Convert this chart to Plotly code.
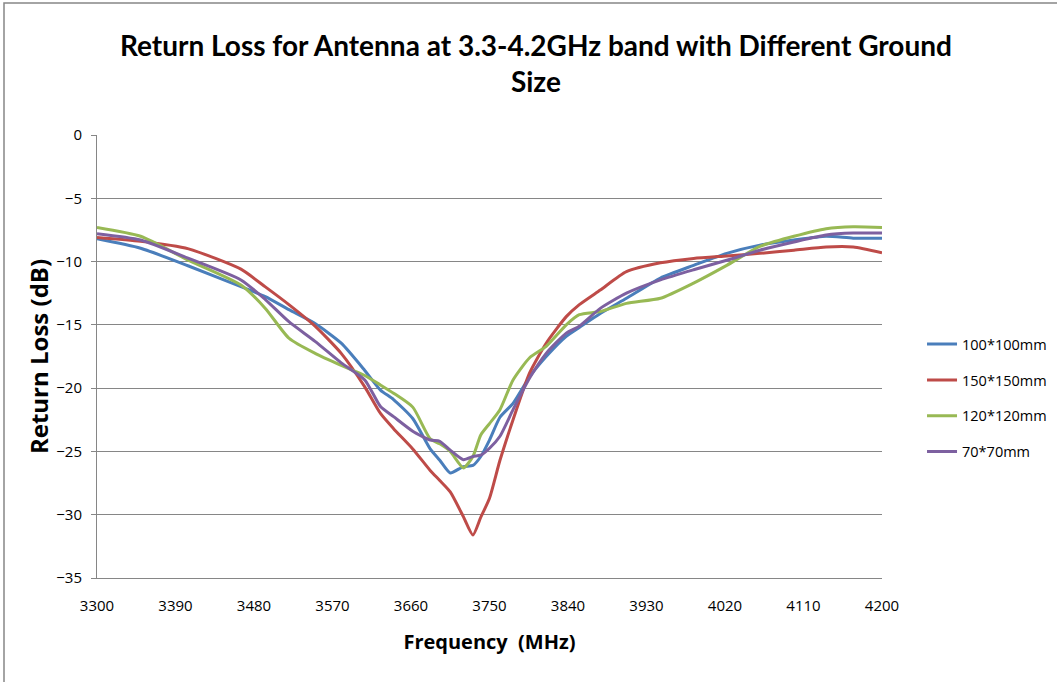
import plotly.graph_objects as go

freq = [3300, 3350, 3405, 3465, 3493, 3520, 3550, 3580, 3607, 3625, 3640, 3662, 3682,
        3693, 3705, 3720, 3731, 3740, 3750, 3762, 3777, 3796, 3815, 3838, 3853, 3877,
        3907, 3946, 3984, 4022, 4060, 4099, 4136, 4167, 4200]

s100 = [-8.2, -8.95, -10.35, -11.98, -12.77, -13.8, -14.9, -16.45, -18.6, -20.15, -20.9,
        -22.4, -24.8, -25.7, -26.7, -26.2, -26.1, -25.4, -24.1, -22.3, -21.2, -19.1,
        -17.5, -15.9, -15.2, -14.1, -12.9, -11.3, -10.3, -9.35, -8.7, -8.3, -8.0, -8.15, -8.15]

s150 = [-8.1, -8.4, -9.0, -10.6, -12.0, -13.4, -15.1, -17.25, -19.9, -22.0, -23.2,
        -24.8, -26.5, -27.3, -28.2, -30.15, -31.6, -30.2, -28.7, -25.7, -22.5, -18.8,
        -16.45, -14.35, -13.4, -12.25, -10.8, -10.1, -9.75, -9.55, -9.35, -9.1, -8.85, -8.85, -9.3]

s120 = [-7.3, -8.0, -9.9, -11.85, -13.7, -16.05, -17.25, -18.2, -19.0, -19.75, -20.4,
        -21.5, -24.0, -24.4, -25.0, -26.3, -25.4, -23.7, -22.8, -21.7, -19.35, -17.6,
        -16.7, -15.0, -14.2, -13.95, -13.3, -12.9, -11.7, -10.3, -8.8, -8.0, -7.4, -7.25, -7.3]

s70 = [-7.8, -8.3, -9.75, -11.45, -13.0, -14.75, -16.3, -18.0, -19.35, -21.45, -22.25,
       -23.4, -24.1, -24.2, -24.9, -25.65, -25.4, -25.3, -24.75, -23.8, -21.7, -19.2,
       -17.25, -15.65, -15.1, -13.7, -12.5, -11.45, -10.65, -9.9, -9.1, -8.45, -7.9, -7.75, -7.75]

series = [
    ("100*100mm", s100, "#4A7EBB"),
    ("150*150mm", s150, "#BE4B48"),
    ("120*120mm", s120, "#98B954"),
    ("70*70mm", s70, "#7D60A0"),
]

x_ticks = list(range(3300, 4201, 90))
y_ticks = list(range(-35, 1, 5))

fig = go.Figure()
for name, vals, col in series:
    fig.add_trace(go.Scatter(x=freq, y=vals, mode="lines", name=name, legendgroup=name,
                             line=dict(color=col, width=3, shape="spline", smoothing=0.6)))

fig.update_layout(
    width=1057, height=682,
    margin=dict(l=97, r=175, t=135, b=104, autoexpand=False),
    paper_bgcolor="white", plot_bgcolor="white",
    font=dict(family="Open Sans, sans-serif", color="#000000"),
    title=dict(text="<b>Return Loss for Antenna at 3.3-4.2GHz band with Different Ground<br>Size</b>",
               x=0.507, xanchor="center", xref="container", y=0.918, yanchor="top",
               font=dict(family="Lato, sans-serif", size=28, color="#000000")),
    xaxis=dict(range=[3300, 4200], tickvals=x_ticks, ticks="", ticklabelstandoff=14,
               showline=True, linecolor="#868686", linewidth=1,
               showgrid=False, zeroline=False, automargin=False,
               tickfont=dict(family="Open Sans, sans-serif", size=15, color="#000000"),
               title=dict(text="<b>Frequency  (MHz)</b>", standoff=20,
                          font=dict(family="Open Sans, sans-serif", size=20, color="#000000"))),
    yaxis=dict(range=[-35, 0], tickvals=y_ticks, ticks="outside", ticklen=5,
               tickcolor="#868686", ticklabelstandoff=6,
               showline=True, linecolor="#868686", linewidth=1,
               showgrid=True, gridcolor="#868686", gridwidth=1, zeroline=False, automargin=False,
               tickfont=dict(family="Open Sans, sans-serif", size=15, color="#000000"),
               title=dict(text="<b>Return Loss (dB)</b>", standoff=0,
                          font=dict(family="Open Sans, sans-serif", size=24, color="#000000"))),
    legend=dict(xref="container", x=0.8723, xanchor="left", y=0.406, yanchor="middle",
                font=dict(family="Open Sans, sans-serif", size=14.5, color="#000000"),
                tracegroupgap=14, itemwidth=30, bgcolor="rgba(0,0,0,0)"),
    showlegend=True,
)

# outer chart border
fig.add_shape(type="rect", xref="paper", yref="paper",
              x0=(4 - 97) / 785, x1=(1062 - 97) / 785,
              y0=(578 - 690) / 443, y1=(578 - 3) / 443,
              line=dict(color="#868686", width=1.5), layer="below")

fig.write_html("out.html", config={"displayModeBar": False},
               post_script="document.body.style.margin='0';document.body.style.overflow='hidden';")
